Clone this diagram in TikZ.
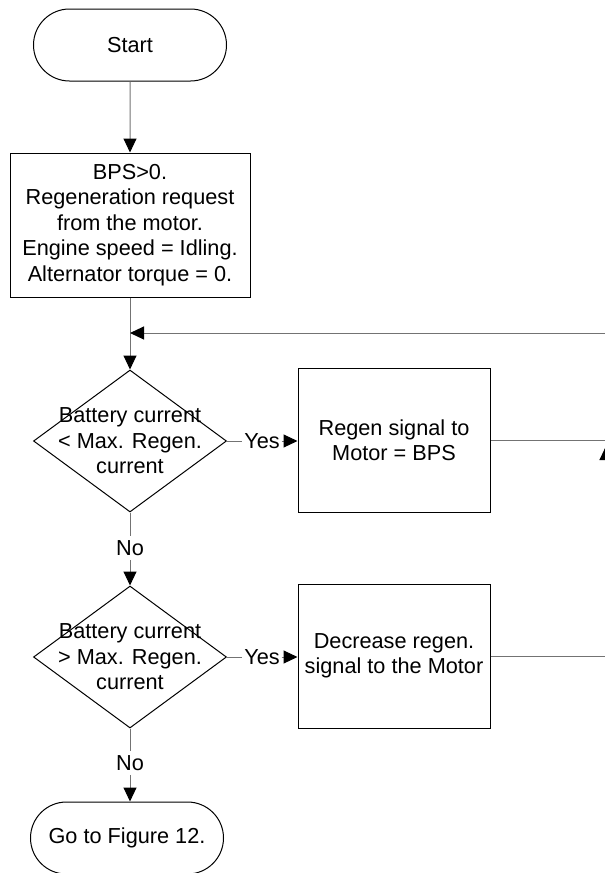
\documentclass[tikz,border=0pt]{standalone}
\usepackage{fontspec}
\setmainfont{Liberation Sans}
\usetikzlibrary{shapes.geometric,shapes.misc,arrows.meta}

\definecolor{linegray}{gray}{0.45}

\begin{document}
\begin{tikzpicture}[x=0.5pt,y=-0.5pt,
    font=\fontsize{10.85pt}{12.75pt}\selectfont,
    terminal/.style={draw,line width=0.5pt,rounded rectangle,minimum width=96.5pt,minimum height=36pt,inner sep=0pt},
    process/.style={draw,line width=0.5pt,rectangle,minimum width=96pt,minimum height=72pt,inner sep=0pt,align=center},
    decision/.style={draw,line width=0.5pt,diamond,minimum width=96.5pt,minimum height=71pt,inner sep=0pt},
    answer/.style={inner sep=0.8pt},
    link/.style={draw=linegray,line width=0.5pt},
    flow/.style={link,-{Triangle[length=7pt,width=6.5pt,color=black]}}]
  \def\mainx{130}
  \def\sidex{394}
  \def\loopx{606}

  \useasboundingbox (0,0) rectangle (605,873);
  \clip (0,0) rectangle (605,873);

  \node[terminal] (start) at (\mainx,45) {Start};
  \node[process,minimum width=120pt] (init) at (\mainx,225)
    {BPS>0.\\ Regeneration request\\from the motor.\\ Engine speed = Idling.\\ Alternator torque = 0.};

  \node[decision] (dec1) at (\mainx,441) {};
  \node[align=center] (dec1txt) at (dec1) {Battery current\\< Max. Regen.\\current};
  \node[process] (regen) at (\sidex,440) {Regen signal to\\Motor = BPS};

  \node[decision] (dec2) at (\mainx,657) {};
  \node[align=center] (dec2txt) at (dec2) {Battery current\\> Max. Regen.\\current};
  \node[process] (lower) at (\sidex,656) {Decrease regen.\\signal to the Motor};

  \node[terminal] (goto) at (127,838) {Go to Figure 12.};

  \node[answer] (yes1) at (262,441) {Yes};
  \node[answer] (yes2) at (262,657) {Yes};
  \node[answer,inner sep=2pt] (no1) at (\mainx,548) {No};
  \node[answer,inner sep=2pt] (no2) at (\mainx,763) {No};

  \coordinate (join) at (\mainx,333);
  \coordinate (turn) at (\loopx,333);
  \coordinate (merge) at (\loopx,446);

  \draw[flow] (start) -- (init);
  \draw[flow] (init) -- (dec1);
  \draw[link] (dec1.east) -- (yes1);
  \draw[flow] (yes1) -- (regen.west |- yes1);
  \draw[link] (dec1.south) -- (no1);
  \draw[flow] (no1) -- (dec2.north);
  \draw[link] (dec2.east) -- (yes2);
  \draw[flow] (yes2) -- (lower.west |- yes2);
  \draw[link] (dec2.south) -- (no2);
  \draw[flow] (no2) -- (no2 |- goto.north);
  \draw[flow] (regen.east) -| (turn) -- (join);
  \draw[flow] (lower.east) -| (merge);
\end{tikzpicture}
\end{document}
